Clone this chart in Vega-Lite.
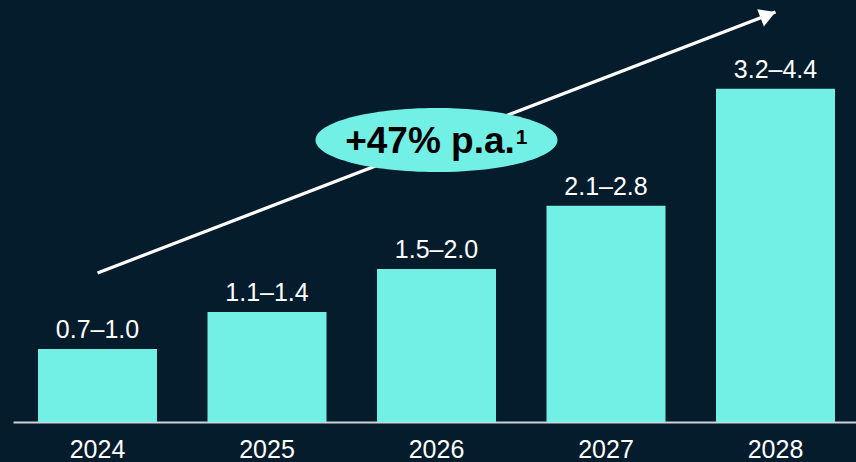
{
  "$schema": "https://vega.github.io/schema/vega-lite/v6.json",
  "width": 843,
  "height": 422,
  "autosize": "none",
  "padding": {"left": 13, "top": 0, "right": 0, "bottom": 40},
  "background": "#051c2c",
  "config": {
    "view": {"stroke": null},
    "font": "Liberation Sans"
  },
  "datasets": {
    "bars": [
      {"year": "2024", "value": 0.83, "label": "0.7–1.0"},
      {"year": "2025", "value": 1.25, "label": "1.1–1.4"},
      {"year": "2026", "value": 1.74, "label": "1.5–2.0"},
      {"year": "2027", "value": 2.46, "label": "2.1–2.8"},
      {"year": "2028", "value": 3.79, "label": "3.2–4.4"}
    ],
    "arrow": [
      {"year": "2024", "value": 1.695},
      {"year": "2028", "value": 4.663}
    ],
    "head": [
      {"year": "2028", "value": 4.663}
    ],
    "badge": [
      {"year": "2026", "value": 3.207, "base": 3.06, "supbase": 3.162, "text": "+47% p.a.", "sup": "1"}
    ]
  },
  "encoding": {
    "x": {
      "field": "year",
      "type": "nominal",
      "sort": ["2024", "2025", "2026", "2027", "2028"],
      "scale": {"domain": ["2024", "2025", "2026", "2027", "2028"], "range": [0, 847], "paddingInner": 0.298, "paddingOuter": 0.1475},
      "axis": {
        "title": null,
        "labelAngle": 0,
        "ticks": false,
        "tickSize": 0,
        "labelPadding": 35,
        "labelBaseline": "alphabetic",
        "labelFontSize": 25,
        "labelColor": "#ffffff",
        "labelFont": "Liberation Sans",
        "domainColor": "#cfd3d6",
        "domainWidth": 2,
        "grid": false
      }
    },
    "y": {
      "field": "value",
      "type": "quantitative",
      "scale": {"domain": [0, 4.8], "nice": false, "zero": true},
      "axis": null
    }
  },
  "layer": [
    {
      "data": {"name": "bars"},
      "mark": {"type": "bar", "color": "#73f0e5"}
    },
    {
      "data": {"name": "bars"},
      "mark": {"type": "text", "color": "#ffffff", "fontSize": 25, "baseline": "alphabetic", "dy": -11, "align": "center"},
      "encoding": {"text": {"field": "label"}}
    },
    {
      "data": {"name": "arrow"},
      "mark": {"type": "line", "color": "#ffffff", "strokeWidth": 3.2, "strokeCap": "butt"}
    },
    {
      "data": {"name": "head"},
      "mark": {"type": "point", "shape": "triangle-right", "filled": true, "color": "#ffffff", "opacity": 1, "size": 340, "angle": -21, "xOffset": -7.5, "yOffset": 2.9}
    },
    {
      "data": {"name": "badge"},
      "mark": {"type": "point", "shape": "M-1,0A1,0.2645,0,1,1,1,0A1,0.2645,0,1,1,-1,0Z", "filled": true, "color": "#73f0e5", "opacity": 1, "size": 58564}
    },
    {
      "data": {"name": "badge"},
      "mark": {"type": "text", "color": "#000000", "fontSize": 37, "fontWeight": "bold", "baseline": "alphabetic", "align": "center", "dx": -6.5},
      "encoding": {
        "y": {"field": "base", "type": "quantitative"},
        "text": {"field": "text"}
      }
    },
    {
      "data": {"name": "badge"},
      "mark": {"type": "text", "color": "#000000", "fontSize": 21, "fontWeight": "bold", "baseline": "alphabetic", "align": "center", "dx": 85},
      "encoding": {
        "y": {"field": "supbase", "type": "quantitative"},
        "text": {"field": "sup"}
      }
    }
  ]
}
